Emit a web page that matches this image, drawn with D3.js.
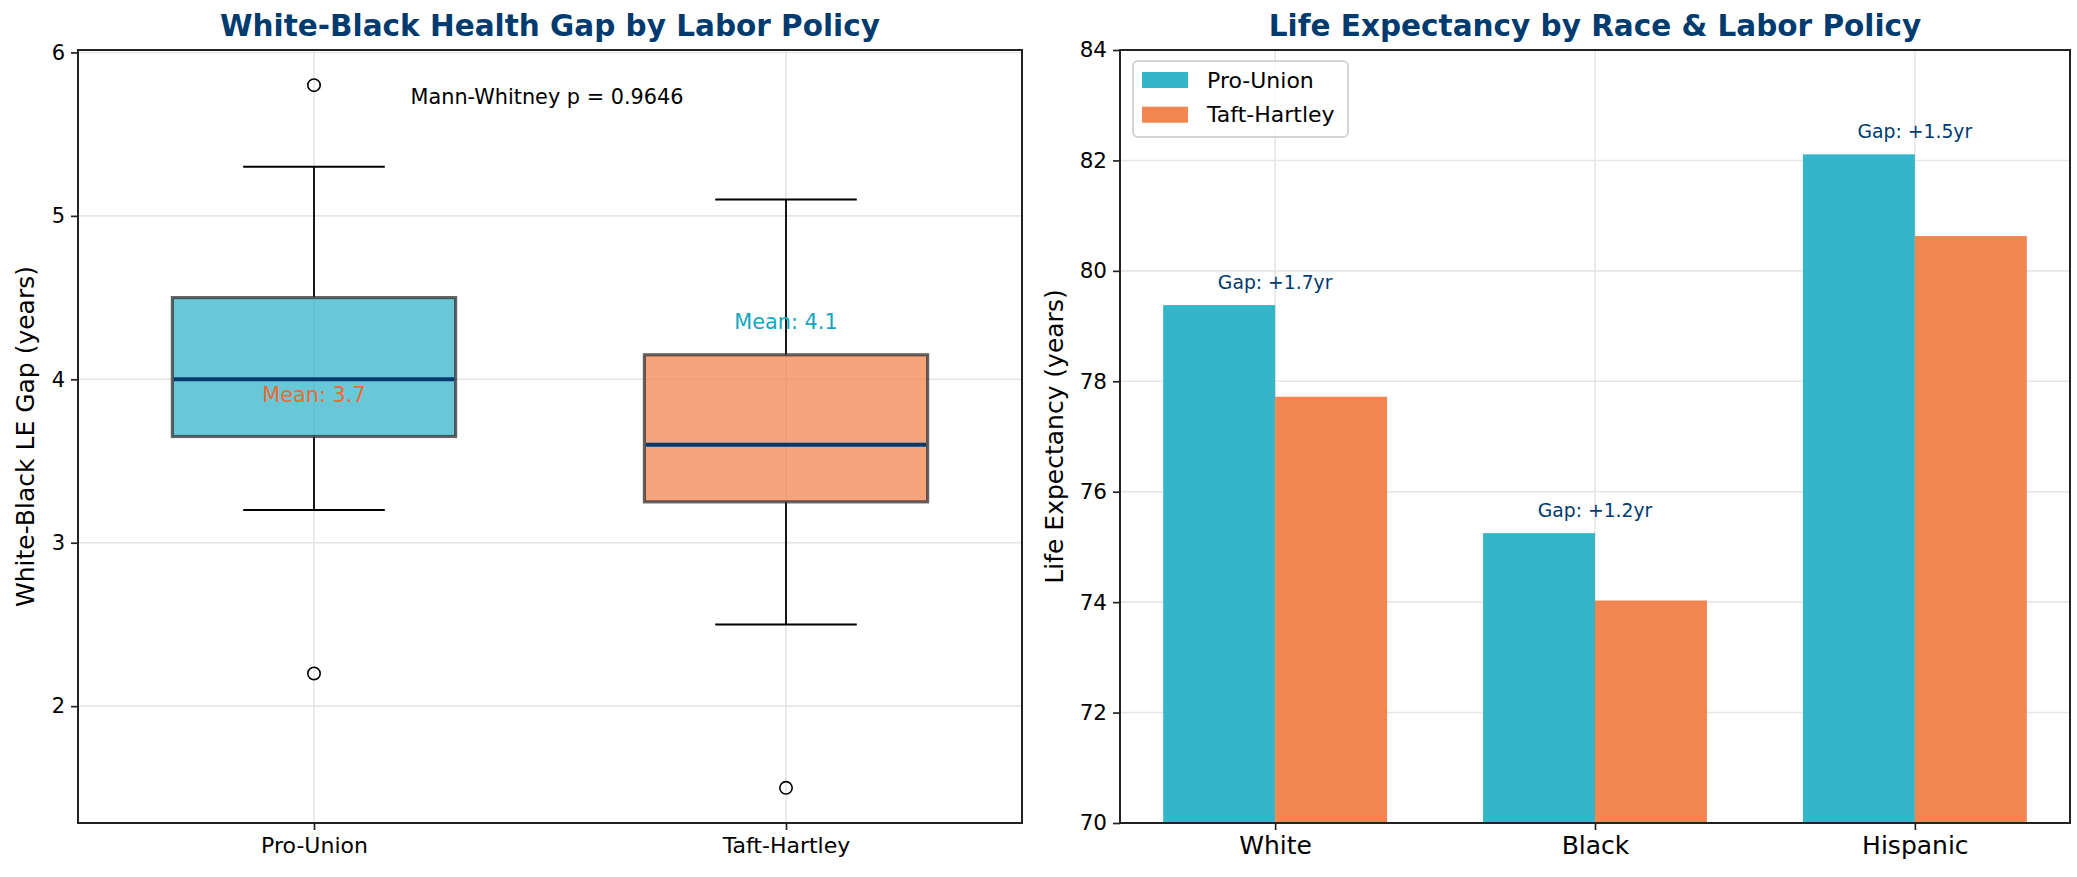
<!DOCTYPE html>
<html>
<head>
<meta charset="utf-8">
<script src="https://cdn.jsdelivr.net/npm/d3@7"></script>
<style>
  html, body { margin: 0; padding: 0; background: #fff; }
  svg { display: block; font-family: "DejaVu Sans", sans-serif; }
</style>
</head>
<body>
<script>
// left panel: box plot of the white-black gap
var boxGroups = ["Pro-Union", "Taft-Hartley"];
var boxQ1 = [3.65, 3.25];
var boxMedian = [4.0, 3.6];
var boxQ3 = [4.5, 4.15];
var whiskerLow = [3.2, 2.5];
var whiskerHigh = [5.3, 5.1];
var boxOutliers = [[5.8, 2.2], [1.5]];
var boxMeans = [3.66, 4.11];
var gapTicks = [2, 3, 4, 5, 6];
var mannWhitneyP = "0.9646";

// right panel: life expectancy bars
var races = ["White", "Black", "Hispanic"];
var proUnionLE = [79.38, 75.25, 82.11];
var taftHartleyLE = [77.72, 74.03, 80.63];
var leTicks = [70, 72, 74, 76, 78, 80, 82, 84];
var seriesNames = ["Pro-Union", "Taft-Hartley"];

var W = 2077, H = 877;
var teal = "#35b5c9", orange = "#f28650", navy = "#003b6f";
var gridCol = "#e6e6e6", spineCol = "#222";

var svg = d3.select("body").append("svg")
	.attr("width", W)
	.attr("height", H)
	.attr("xmlns", "http://www.w3.org/2000/svg");

svg.append("rect").attr("width", W).attr("height", H).attr("fill", "#fff");

// ---------- left panel ----------
var L = {left: 78, right: 1022, top: 50, bottom: 823};
var xL = d3.scaleLinear().domain([0.5, 2.5]).range([L.left, L.right]);
var yL = d3.scaleLinear().domain([1.285, 6.015]).range([L.bottom, L.top]);
var gL = svg.append("g");

// grid
gL.selectAll(".hg").data(gapTicks).enter().append("line")
	.attr("x1", L.left).attr("x2", L.right)
	.attr("y1", function(d){ return yL(d); }).attr("y2", function(d){ return yL(d); })
	.attr("stroke", gridCol).attr("stroke-width", 1.6);
gL.selectAll(".vg").data(boxGroups).enter().append("line")
	.attr("x1", function(d, i){ return xL(i + 1); }).attr("x2", function(d, i){ return xL(i + 1); })
	.attr("y1", L.top).attr("y2", L.bottom)
	.attr("stroke", gridCol).attr("stroke-width", 1.6);

var boxFill = [teal, orange];
for(var i = 0; i < boxGroups.length; i++){
	var cx = xL(i + 1);
	var halfBox = xL(1.3) - xL(1);
	var halfCap = xL(1.15) - xL(1);
	// whiskers
	gL.append("line").attr("x1", cx).attr("x2", cx)
		.attr("y1", yL(boxQ3[i])).attr("y2", yL(whiskerHigh[i]))
		.attr("stroke", "#000").attr("stroke-width", 1.8);
	gL.append("line").attr("x1", cx).attr("x2", cx)
		.attr("y1", yL(boxQ1[i])).attr("y2", yL(whiskerLow[i]))
		.attr("stroke", "#000").attr("stroke-width", 1.8);
	gL.append("line").attr("x1", cx - halfCap).attr("x2", cx + halfCap)
		.attr("y1", yL(whiskerHigh[i])).attr("y2", yL(whiskerHigh[i]))
		.attr("stroke", "#000").attr("stroke-width", 2);
	gL.append("line").attr("x1", cx - halfCap).attr("x2", cx + halfCap)
		.attr("y1", yL(whiskerLow[i])).attr("y2", yL(whiskerLow[i]))
		.attr("stroke", "#000").attr("stroke-width", 2);
	// box
	gL.append("rect")
		.attr("x", cx - halfBox).attr("width", 2 * halfBox)
		.attr("y", yL(boxQ3[i])).attr("height", yL(boxQ1[i]) - yL(boxQ3[i]))
		.attr("fill", boxFill[i]).attr("fill-opacity", 0.75)
		.attr("stroke", "#333").attr("stroke-opacity", 0.75).attr("stroke-width", 3.2);
	// median
	gL.append("line").attr("x1", cx - halfBox + 1.6).attr("x2", cx + halfBox - 1.6)
		.attr("y1", yL(boxMedian[i])).attr("y2", yL(boxMedian[i]))
		.attr("stroke", navy).attr("stroke-width", 4);
	// outliers
	gL.selectAll(".out" + i).data(boxOutliers[i]).enter().append("circle")
		.attr("cx", cx).attr("cy", function(d){ return yL(d); }).attr("r", 6.2)
		.attr("fill", "none").attr("stroke", "#000").attr("stroke-width", 1.6);
}

// mean labels (colours as in the original: swapped)
var meanCol = ["#ee6a30", "#12a6c0"];
gL.selectAll(".mean").data(boxMeans).enter().append("text")
	.attr("x", function(d, i){ return xL(i + 1); })
	.attr("y", function(d){ return yL(d + 0.2); })
	.attr("text-anchor", "middle")
	.attr("font-size", 20.8)
	.attr("fill", function(d, i){ return meanCol[i]; })
	.text(function(d){ return "Mean: " + d.toFixed(1); });

gL.append("text")
	.attr("x", (L.left + L.right) / 2 - 3).attr("y", 103.5)
	.attr("text-anchor", "middle").attr("font-size", 20.8).attr("fill", "#000")
	.text("Mann-Whitney p = " + mannWhitneyP);

// axes
var axL = d3.axisLeft(yL).tickValues(gapTicks).tickSize(7).tickPadding(6).tickFormat(d3.format("d"));
var gyL = gL.append("g").attr("transform", "translate(" + L.left + ",0)").call(axL);
var axLB = d3.axisBottom(xL).tickValues([1, 2]).tickSize(7).tickPadding(7)
	.tickFormat(function(d){ return boxGroups[d - 1]; });
var gxL = gL.append("g").attr("transform", "translate(0," + L.bottom + ")").call(axLB);
gyL.selectAll("text").attr("font-size", 21).attr("fill", "#000").attr("font-family", "DejaVu Sans");
gxL.selectAll("text").attr("font-size", 22).attr("fill", "#000").attr("font-family", "DejaVu Sans");
[gyL, gxL].forEach(function(g){
	g.select(".domain").remove();
	g.selectAll(".tick line").attr("stroke", spineCol).attr("stroke-width", 1.7);
});
gL.append("rect").attr("x", L.left).attr("y", L.top)
	.attr("width", L.right - L.left).attr("height", L.bottom - L.top)
	.attr("fill", "none").attr("stroke", spineCol).attr("stroke-width", 2);

gL.append("text")
	.attr("transform", "translate(34," + ((L.top + L.bottom) / 2) + ") rotate(-90)")
	.attr("text-anchor", "middle").attr("font-size", 25).attr("fill", "#000")
	.text("White-Black LE Gap (years)");
gL.append("text")
	.attr("x", (L.left + L.right) / 2).attr("y", 36)
	.attr("text-anchor", "middle").attr("font-size", 29.5).attr("font-weight", "bold").attr("fill", navy)
	.text("White-Black Health Gap by Labor Policy");

// ---------- right panel ----------
var R = {left: 1120, right: 2070, top: 50, bottom: 823};
var xR = d3.scaleLinear().domain([-0.485, 2.485]).range([R.left, R.right]);
var yR = d3.scaleLinear().domain([70, 84]).range([R.bottom, R.top]);
var gR = svg.append("g");
var barW = 0.35;

gR.selectAll(".hg").data(leTicks).enter().append("line")
	.attr("x1", R.left).attr("x2", R.right)
	.attr("y1", function(d){ return yR(d); }).attr("y2", function(d){ return yR(d); })
	.attr("stroke", gridCol).attr("stroke-width", 1.6);
gR.selectAll(".vg").data(races).enter().append("line")
	.attr("x1", function(d, i){ return xR(i); }).attr("x2", function(d, i){ return xR(i); })
	.attr("y1", R.top).attr("y2", R.bottom)
	.attr("stroke", gridCol).attr("stroke-width", 1.6);

gR.selectAll(".pu").data(proUnionLE).enter().append("rect")
	.attr("x", function(d, i){ return xR(i - barW); })
	.attr("width", xR(barW) - xR(0))
	.attr("y", function(d){ return yR(d); })
	.attr("height", function(d){ return yR(70) - yR(d); })
	.attr("fill", teal);
gR.selectAll(".th").data(taftHartleyLE).enter().append("rect")
	.attr("x", function(d, i){ return xR(i); })
	.attr("width", xR(barW) - xR(0))
	.attr("y", function(d){ return yR(d); })
	.attr("height", function(d){ return yR(70) - yR(d); })
	.attr("fill", orange);

gR.selectAll(".gap").data(races).enter().append("text")
	.attr("x", function(d, i){ return xR(i); })
	.attr("y", function(d, i){ return yR(Math.max(proUnionLE[i], taftHartleyLE[i]) + 0.3); })
	.attr("text-anchor", "middle").attr("font-size", 18.75).attr("fill", navy)
	.text(function(d, i){ return "Gap: +" + (proUnionLE[i] - taftHartleyLE[i]).toFixed(1) + "yr"; });

var axR = d3.axisLeft(yR).tickValues(leTicks).tickSize(7).tickPadding(6).tickFormat(d3.format("d"));
var gyR = gR.append("g").attr("transform", "translate(" + R.left + ",0)").call(axR);
var axRB = d3.axisBottom(xR).tickValues([0, 1, 2]).tickSize(7).tickPadding(6)
	.tickFormat(function(d){ return races[d]; });
var gxR = gR.append("g").attr("transform", "translate(0," + R.bottom + ")").call(axRB);
gyR.selectAll("text").attr("font-size", 21.5).attr("fill", "#000").attr("font-family", "DejaVu Sans");
gxR.selectAll("text").attr("font-size", 25).attr("fill", "#000").attr("font-family", "DejaVu Sans");
[gyR, gxR].forEach(function(g){
	g.select(".domain").remove();
	g.selectAll(".tick line").attr("stroke", spineCol).attr("stroke-width", 1.7);
});
gR.append("rect").attr("x", R.left).attr("y", R.top)
	.attr("width", R.right - R.left).attr("height", R.bottom - R.top)
	.attr("fill", "none").attr("stroke", spineCol).attr("stroke-width", 2);

gR.append("text")
	.attr("transform", "translate(1063," + ((R.top + R.bottom) / 2) + ") rotate(-90)")
	.attr("text-anchor", "middle").attr("font-size", 25).attr("fill", "#000")
	.text("Life Expectancy (years)");
gR.append("text")
	.attr("x", (R.left + R.right) / 2).attr("y", 36)
	.attr("text-anchor", "middle").attr("font-size", 29.5).attr("font-weight", "bold").attr("fill", navy)
	.text("Life Expectancy by Race & Labor Policy");

// legend
var leg = gR.append("g").attr("transform", "translate(1133,61)");
leg.append("rect").attr("width", 215).attr("height", 76).attr("rx", 5)
	.attr("fill", "#fff").attr("fill-opacity", 0.8)
	.attr("stroke", "#d4d4d4").attr("stroke-width", 2);
var legCol = [teal, orange];
seriesNames.forEach(function(name, i){
	leg.append("rect").attr("x", 9).attr("y", 11 + i * 34.7).attr("width", 46).attr("height", 16)
		.attr("fill", legCol[i]);
	leg.append("text").attr("x", 74).attr("y", 26.5 + i * 34.7)
		.attr("font-size", 22).attr("fill", "#000").text(name);
});
</script>
</body>
</html>
